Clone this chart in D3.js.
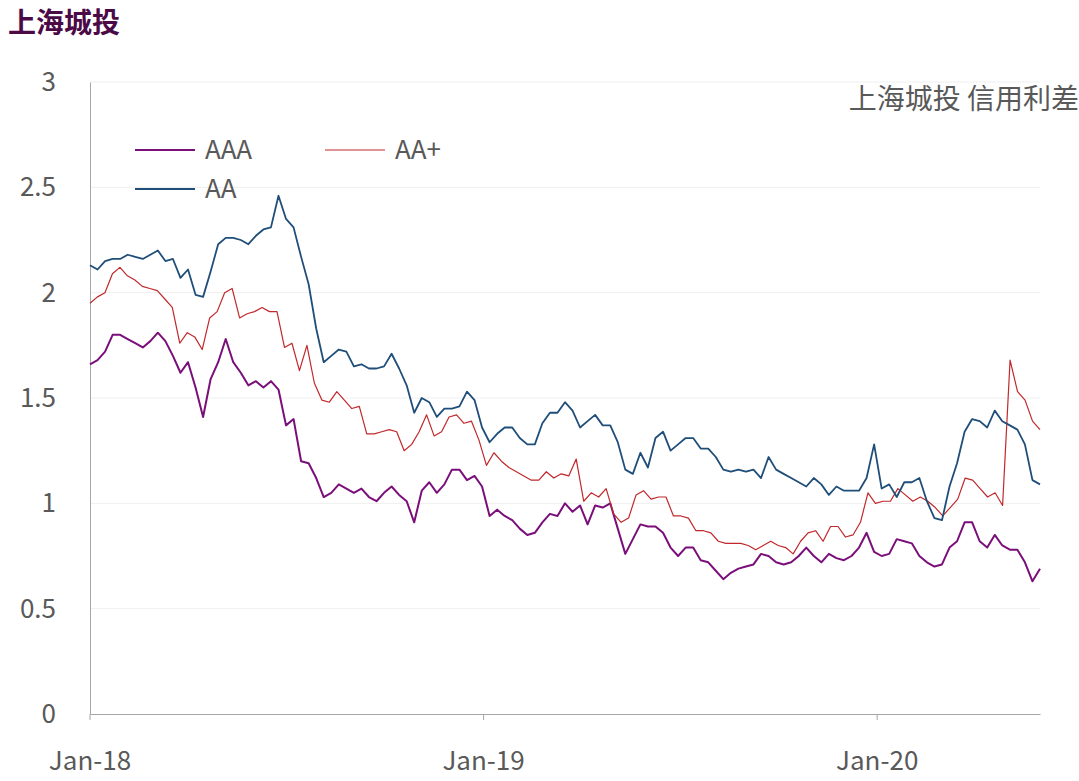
<!DOCTYPE html>
<html><head><meta charset="utf-8">
<script src="https://cdn.jsdelivr.net/npm/d3@7"></script>
<style>body{margin:0;background:#fff}text{font-family:"Noto Sans CJK SC","Open Sans",sans-serif}</style>
</head><body><svg id="c" width="1079" height="781"></svg>
<script>
const startDate = new Date(2018,0,1), endDate = new Date(2020,4,31);
const xTicks = [new Date(2018,0,1), new Date(2019,0,1), new Date(2020,0,1)];
const xTickLabels = ["Jan-18","Jan-19","Jan-20"];
const yTicks = [0,0.5,1,1.5,2,2.5,3];
const seriesNames = ["AAA","AA+","AA"];
const AAA = [1.66,1.68,1.72,1.80,1.80,1.78,1.76,1.74,1.77,1.81,1.77,1.70,1.62,1.67,1.55,1.41,1.59,1.67,1.78,1.67,1.62,1.56,1.58,1.55,1.58,1.54,1.37,1.40,1.20,1.19,1.12,1.03,1.05,1.09,1.07,1.05,1.07,1.03,1.01,1.05,1.08,1.04,1.01,0.91,
1.06,1.10,1.05,1.09,1.16,1.16,1.11,1.13,1.08,0.94,0.97,0.94,0.92,0.88,0.85,0.86,0.91,0.95,0.94,1.00,0.96,0.99,0.90,0.99,0.98,1.00,0.88,0.76,0.83,0.90,0.89,0.89,0.86,0.79,0.75,0.79,0.79,0.73,0.72,0.68,0.64,0.67,
0.69,0.70,0.71,0.76,0.75,0.72,0.71,0.72,0.75,0.79,0.75,0.72,0.76,0.74,0.73,0.75,0.79,0.86,0.77,0.75,0.76,0.83,0.82,0.81,0.75,0.72,0.70,0.71,0.79,0.82,0.91,0.91,0.82,0.79,0.85,0.80,0.78,0.78,0.72,0.63,0.69];
const AAplus = [1.95,1.98,2.00,2.09,2.12,2.08,2.06,2.03,2.02,2.01,1.97,1.93,1.76,1.81,1.79,1.73,1.88,1.91,2.00,2.02,1.88,1.90,1.91,1.93,1.91,1.91,1.74,1.76,1.63,1.75,1.57,1.49,1.48,1.53,1.49,1.45,1.46,1.33,1.33,1.34,1.35,1.34,1.25,1.28,
1.34,1.42,1.32,1.34,1.41,1.42,1.38,1.39,1.30,1.18,1.24,1.20,1.17,1.15,1.13,1.11,1.11,1.15,1.12,1.14,1.13,1.21,1.01,1.05,1.03,1.07,0.95,0.91,0.93,1.04,1.06,1.02,1.03,1.03,0.94,0.94,0.93,0.87,0.87,0.86,0.82,0.81,
0.81,0.81,0.80,0.78,0.80,0.82,0.80,0.79,0.76,0.82,0.86,0.87,0.82,0.89,0.89,0.84,0.85,0.91,1.05,1.00,1.01,1.01,1.07,1.04,1.01,1.03,1.01,0.98,0.94,0.98,1.02,1.12,1.11,1.07,1.03,1.05,0.99,1.68,1.53,1.49,1.39,1.35];
const AA = [2.13,2.11,2.15,2.16,2.16,2.18,2.17,2.16,2.18,2.20,2.15,2.16,2.07,2.11,1.99,1.98,2.10,2.23,2.26,2.26,2.25,2.23,2.27,2.30,2.31,2.46,2.35,2.31,2.17,2.04,1.83,1.67,1.70,1.73,1.72,1.65,1.66,1.64,1.64,1.65,1.71,1.64,1.56,1.43,
1.50,1.48,1.41,1.45,1.45,1.46,1.53,1.49,1.36,1.29,1.33,1.36,1.36,1.31,1.28,1.28,1.38,1.43,1.43,1.48,1.44,1.36,1.39,1.42,1.37,1.37,1.29,1.16,1.14,1.24,1.17,1.31,1.34,1.25,1.28,1.31,1.31,1.26,1.26,1.22,1.16,1.15,
1.16,1.15,1.16,1.12,1.22,1.16,1.14,1.12,1.10,1.08,1.12,1.09,1.04,1.08,1.06,1.06,1.06,1.12,1.28,1.07,1.09,1.03,1.10,1.10,1.12,1.01,0.93,0.92,1.08,1.19,1.34,1.40,1.39,1.36,1.44,1.39,1.37,1.35,1.28,1.11,1.09];
const seriesData = [AAA, AAplus, AA];
const colors = ["#7a0f7a","#c0282b","#1f4e79"];
const widths = [2,1.2,1.8];

const svg = d3.select("#c");
const m = {l:90, r:1040, t:82, b:714};
const x = d3.scaleTime().domain([startDate,endDate]).range([m.l,m.r]);
const y = d3.scaleLinear().domain([0,3]).range([m.b,m.t]);

svg.append("text").attr("x",8).attr("y",33).attr("font-size",28).attr("font-weight","bold").attr("fill","#4b0a46").text("上海城投");

svg.append("g").selectAll("line").data(yTicks.slice(1)).join("line")
 .attr("x1",m.l).attr("x2",m.r).attr("y1",d=>y(d)).attr("y2",d=>y(d)).attr("stroke","#efefef");
svg.append("g").attr("transform",`translate(${m.l},0)`)
 .call(d3.axisRight(y).tickValues(yTicks).tickSize(0).tickFormat(""))
 .call(g=>g.select(".domain").attr("stroke","#a6a6a6"));
svg.append("g").selectAll("text").data(yTicks).join("text")
 .attr("x",56).attr("y",d=>y(d)+9).attr("text-anchor","end").attr("font-size",26).attr("fill","#595959").text(d=>d);
svg.append("g").attr("transform",`translate(0,${m.b})`)
 .call(d3.axisBottom(x).tickValues(xTicks.concat([endDate])).tickSize(0).tickFormat(""))
 .call(g=>g.select(".domain").attr("stroke","#a6a6a6"));
svg.append("g").selectAll("line").data(xTicks).join("line")
 .attr("x1",d=>x(d)).attr("x2",d=>x(d)).attr("y1",m.b).attr("y2",m.b+6).attr("stroke","#a6a6a6");
svg.append("g").selectAll("text").data(xTicks).join("text")
 .attr("x",d=>x(d)).attr("y",770).attr("text-anchor","middle").attr("font-size",26).attr("fill","#595959").text((d,i)=>xTickLabels[i]);

seriesData.forEach((arr,k)=>{
  const xi = d3.scaleLinear().domain([0,arr.length-1]).range([startDate.getTime(), endDate.getTime()]);
  const line = d3.line().x((d,i)=>x(new Date(xi(i)))).y(d=>y(d));
  svg.append("path").datum(arr).attr("d",line).attr("fill","none").attr("stroke",colors[k]).attr("stroke-width",widths[k]).attr("stroke-linejoin","round");
});

const legPos = [[135,150],[325,150],[135,189]];
seriesNames.forEach((n,k)=>{
  const [lx,ly]=legPos[k];
  svg.append("line").attr("x1",lx).attr("x2",lx+60).attr("y1",ly).attr("y2",ly).attr("stroke",colors[k]).attr("stroke-width",widths[k]);
  svg.append("text").attr("x",lx+70).attr("y",ly+9).attr("font-size",26).attr("fill","#595959").text(n);
});
svg.append("text").attr("x",1079).attr("y",109).attr("text-anchor","end").attr("font-size",28).attr("fill","#595959").text("上海城投 信用利差");
</script></body></html>
